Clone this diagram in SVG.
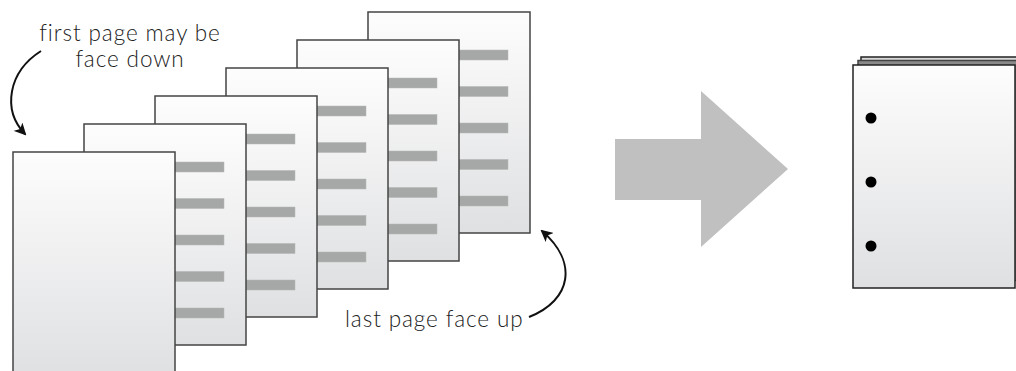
<svg xmlns="http://www.w3.org/2000/svg" width="1016" height="371" viewBox="0 0 1016 371">
<defs>
<linearGradient id="pg" x1="0" y1="0" x2="0" y2="1">
<stop offset="0" stop-color="#fdfdfd"/>
<stop offset="1" stop-color="#dfe0e2"/>
</linearGradient>
<marker id="ah" viewBox="0 0 12 12" refX="10" refY="6" markerWidth="12" markerHeight="12" markerUnits="userSpaceOnUse" orient="auto">
<path d="M0,0 L12,6 L0,12 L3,6 Z" fill="#111"/>
</marker>
<g id="sheet">
<rect x="0" y="0" width="162" height="221" fill="url(#pg)" stroke="#444" stroke-width="1.5"/>
<rect x="60" y="38" width="80" height="10" class="bar"/>
<rect x="60" y="74.5" width="80" height="10" class="bar"/>
<rect x="60" y="111" width="80" height="10" class="bar"/>
<rect x="60" y="147.5" width="80" height="10" class="bar"/>
<rect x="60" y="184" width="80" height="10" class="bar"/>
</g>
</defs>
<style>
.bar{fill:#a6a8a7;stroke:#b4b6b5;stroke-width:0.5}
.lbl{font-family:"Lato","Liberation Sans",sans-serif;font-weight:300;font-size:22.5px;letter-spacing:0.9px;fill:#222}
.curve{fill:none;stroke:#111;stroke-width:2;marker-end:url(#ah)}
</style>
<g id="page6"><use href="#sheet" x="368" y="12"/></g>
<g id="page5"><use href="#sheet" x="297" y="40"/></g>
<g id="page4"><use href="#sheet" x="226" y="68"/></g>
<g id="page3"><use href="#sheet" x="155" y="96"/></g>
<g id="page2"><use href="#sheet" x="84" y="124"/></g>
<g id="page1"><rect x="13" y="152" width="162" height="225" fill="url(#pg)" stroke="#444" stroke-width="1.5"/></g>
<g id="label-first">
<text class="lbl" x="130" y="41" text-anchor="middle">first page may be</text>
<text class="lbl" x="130" y="67" text-anchor="middle">face down</text>
</g>
<g id="label-last"><text class="lbl" x="345" y="327">last page face up</text></g>
<g id="connectors">
<path class="curve" d="M41,51 C8,72 2,110 25,134"/>
<path class="curve" d="M529,317 C572,300 578,262 542,231"/>
</g>
<g id="big-arrow"><polygon points="615,139 701,139 701,91 788,169 701,247 701,200 615,200" fill="#c0c0c0"/></g>
<g id="stack">
<rect x="861" y="57" width="170" height="220" fill="#d8d8d8" stroke="#222" stroke-width="1.5"/>
<rect x="858" y="60.5" width="170" height="220" fill="#8a8a8a" stroke="#444" stroke-width="1.5"/>
<rect x="853" y="65" width="162" height="223" fill="url(#pg)" stroke="#222" stroke-width="1.5"/>
<circle cx="871" cy="118" r="5.5" fill="#000"/>
<circle cx="871" cy="182" r="5.5" fill="#000"/>
<circle cx="871" cy="246" r="5.5" fill="#000"/>
</g>
</svg>
